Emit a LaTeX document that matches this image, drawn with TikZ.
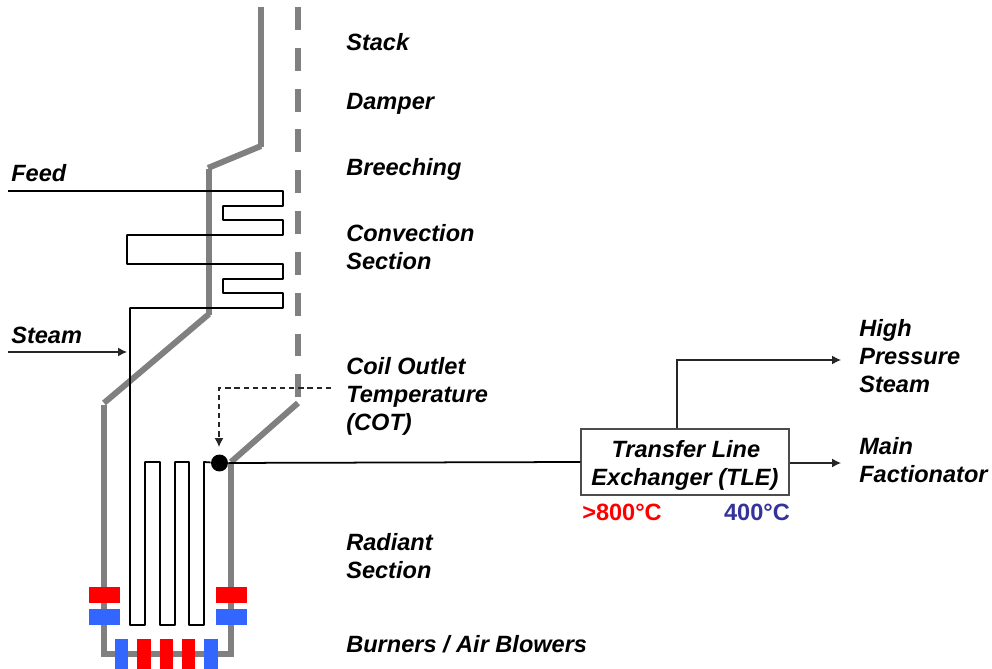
\documentclass[tikz,border=0pt]{standalone}
\usepackage{fontspec}
\setmainfont{Liberation Sans}
\usetikzlibrary{arrows.meta}
\definecolor{wallgray}{HTML}{808080}
\definecolor{burnerred}{HTML}{FF0000}
\definecolor{burnerblue}{HTML}{3366FF}
\definecolor{coolblue}{HTML}{333399}
\tikzset{
  wall/.style={draw=wallgray,line width=3.4pt},
  coil/.style={draw=black,line width=1pt,line join=round},
  flow/.style={draw=black!85,line width=0.7pt,-{Latex[length=5pt,width=5pt]}},
  lbl/.style={anchor=west,inner sep=0pt,align=left,font=\fontsize{13.4}{15.9}\selectfont\bfseries\itshape},
  temp/.style={inner sep=0pt,font=\fontsize{13.4}{15.9}\selectfont\bfseries}
}
\begin{document}
\begin{tikzpicture}[x=0.02cm,y=-0.02cm]
  \useasboundingbox (0,0) rectangle (992,669);
  \draw[wall] (261,7) -- (261,147);
  \draw[wall] (261,146) -- (208,168);
  \draw[wall] (209,169) -- (209,315);
  \draw[wall] (209,314) -- (104,403);
  \draw[wall] (104,405) -- (104,654) -- (231,654) -- (231,463);
  \draw[wall] (231,462) -- (298,403);
  \draw[wall,dash pattern=on 13pt off 10.24pt] (298,7) -- (298,398);
  \coordinate (feedin) at (8,191);
  \node[circle,fill=black,inner sep=0pt,minimum size=0.34cm] (cot) at (219.5,463) {};
  \draw[coil] (feedin) -- (283,191) -- (283,206) -- (223,206) -- (223,220) -- (283,220)
    -- (283,235) -- (127,235) -- (127,264) -- (283,264) -- (283,279) -- (223,279)
    -- (223,293) -- (283,293) -- (283,308) -- (130,308) -- (130,625) -- (145,625)
    -- (145,462) -- (160,462) -- (160,625) -- (175,625) -- (175,462) -- (189,462)
    -- (189,625) -- (204,625) -- (204,462) -- (cot);
  \fill[burnerred] (89,587) rectangle (120,603);
  \fill[burnerblue] (89,609) rectangle (120,625);
  \fill[burnerred] (216,587) rectangle (247,603);
  \fill[burnerblue] (216,609) rectangle (247,625);
  \fill[burnerblue] (115,639) rectangle (128,669);
  \fill[burnerred] (137,639) rectangle (151,669);
  \fill[burnerred] (160,639) rectangle (173,669);
  \fill[burnerred] (182,639) rectangle (195,669);
  \fill[burnerblue] (204,639) rectangle (218,669);
  \node[lbl] (stack) at (346,42) {Stack};
  \node[lbl] (damper) at (346,104) {Damper};
  \node[lbl] (breeching) at (346,169.5) {Breeching};
  \node[lbl] (convection) at (346,247) {Convection\\Section};
  \node[lbl] (cotlbl) at (346,396) {Coil Outlet\\Temperature\\(COT)};
  \node[lbl] (radiant) at (346,556) {Radiant\\Section};
  \node[lbl] (burners) at (346,644) {Burners / Air Blowers};
  \node[lbl] (feed) at (11,173) {Feed};
  \node[lbl] (steam) at (11,335) {Steam};
  \node[lbl] (hpsteam) at (859,356) {High\\Pressure\\Steam};
  \node[lbl] (mainfrac) at (859,460) {Main\\Factionator};
  \node[draw=black!70,line width=0.6pt,minimum width=4.16cm,minimum height=1.32cm,inner sep=0pt,align=center,
    font=\fontsize{13.4}{15.9}\selectfont\bfseries\itshape] (tle) at (685,462) {\rule{0pt}{14pt}\hspace{1pt}Transfer Line\\Exchanger (TLE)};
  \node[temp,text=burnerred] (hot) at (622,512) {>800°C};
  \node[temp,text=coolblue] (cool) at (757,512) {400°C};
  \coordinate (cotstart) at (331,388);
  \coordinate (cotturn) at (219,388);
  \coordinate (steamin) at (8,352);
  \coordinate (steamend) at (127,352);
  \coordinate (hpturn) at (677,360);
  \coordinate (hpend) at (841,360);
  \coordinate (mainend) at (841,463);
  \draw[coil] (cot) -- (tle.west);
  \draw[flow,dash pattern=on 3pt off 2.2pt] (cotstart) -- (cotturn) -- (219,447);
  \draw[flow] (steamin) -- (steamend);
  \draw[flow] (tle.north -| hpturn) -- (hpturn) -- (hpend);
  \draw[flow] (tle.east |- mainend) -- (mainend);
\end{tikzpicture}
\end{document}
